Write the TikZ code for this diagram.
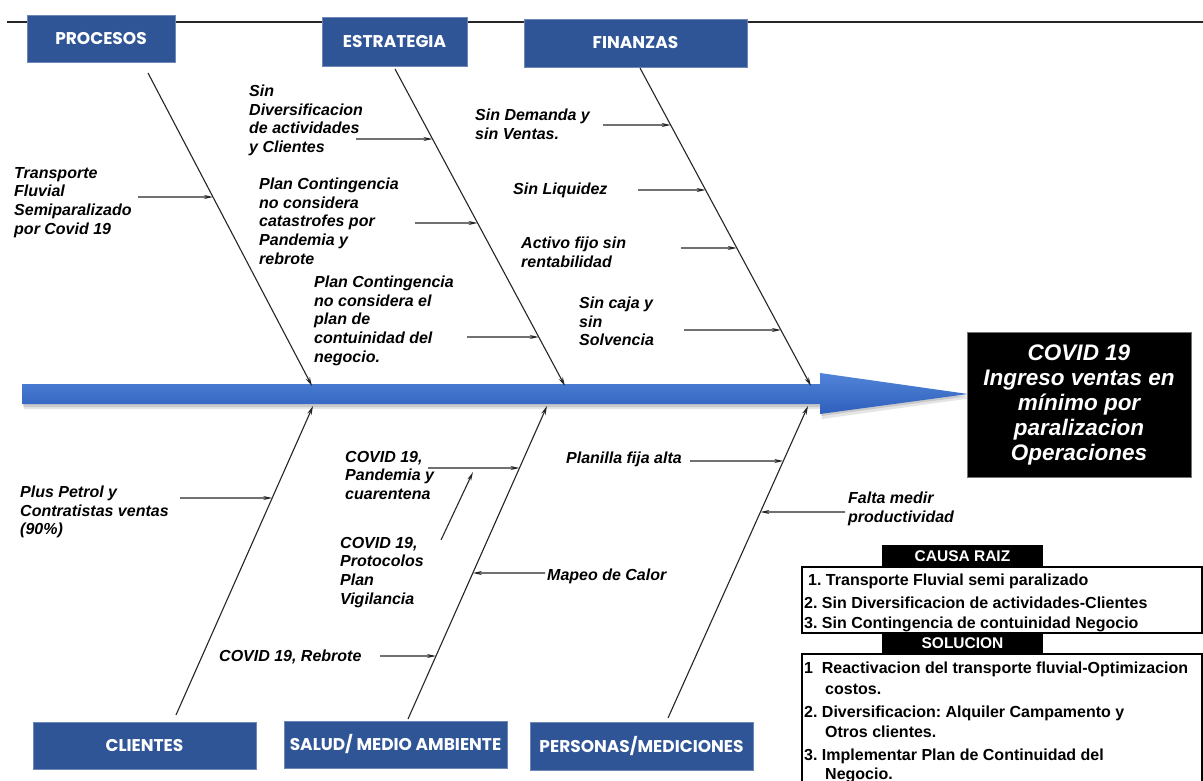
\documentclass[tikz,border=0pt]{standalone}
\usepackage{fontspec}
\setmainfont{Liberation Sans}
\newfontfamily\catfont{Poppins}
\usetikzlibrary{arrows.meta,calc}
\frenchspacing
\definecolor{catblue}{HTML}{2F5597}
\definecolor{spinetop}{HTML}{5084D8}
\definecolor{spinebot}{HTML}{2F5FBC}
\tikzset{
  catbox/.style={fill=catblue, draw=catblue!70!white, line width=0.8pt, text=white,
    font=\catfont\bfseries\fontsize{17}{20}\selectfont, inner sep=0pt},
  cause/.style={font=\bfseries\itshape\fontsize{16}{18.6}\selectfont, align=left,
    anchor=north west, inner sep=0pt},
  bone/.style={line width=1.1pt, black!85, -{Stealth[length=9pt,width=4.5pt]}},
  cline/.style={line width=1.1pt, black!85, -{Stealth[length=9pt,width=4pt]}},
  tabhead/.style={fill=black, text=white, inner sep=0pt,
    font=\bfseries\fontsize{15.5}{17}\selectfont},
  tabtext/.style={anchor=base west, inner sep=0pt, font=\bfseries\fontsize{16}{18}\selectfont},
  tabbox/.style={draw=black, line width=1.2pt, fill=white}
}
\begin{document}
\begin{tikzpicture}[x=1pt,y=-1pt]
\useasboundingbox (0,0) rectangle (1203,781);
\clip (0,0) rectangle (1203,781);
\fill[white] (0,0) rectangle (1203,781);

% top line
\coordinate (tlL) at (7,22);
\coordinate (tlR) at (1204,22);
\draw[line width=1.3pt, black!85] (tlL) -- (tlR);

% category boxes
\node[catbox, minimum width=148pt, minimum height=47pt] (proc) at (101,38.5) {PROCESOS};
\node[catbox, minimum width=145pt, minimum height=49pt] (estr) at (394.5,41.5) {ESTRATEGIA};
\node[catbox, minimum width=223pt, minimum height=48pt] (fin) at (635.5,43) {FINANZAS};
\node[catbox, minimum width=223pt, minimum height=47pt] (cli) at (144.5,745.5) {CLIENTES};
\node[catbox, minimum width=223pt, minimum height=47pt] (sal) at (395.5,744.5) {SALUD/ MEDIO AMBIENTE};
\node[catbox, minimum width=223pt, minimum height=48pt] (per) at (641.5,746) {PERSONAS/MEDICIONES};

% spine
\fill[black, opacity=0.10] (24,388) -- (822,388) -- (822,378) -- (972,398) -- (822,419) -- (822,409) -- (24,409) -- cycle;
\fill[black, opacity=0.12] (23,386) -- (821,386) -- (821,376) -- (970,396) -- (821,416) -- (821,407) -- (23,407) -- cycle;
\shade[top color=spinetop, bottom color=spinebot] (22,384) -- (820,384) -- (820,373) -- (968,394) -- (820,414) -- (820,404) -- (22,404) -- cycle;

% head
\node[fill=black, draw=black!55, line width=0.8pt, text=white, align=center,
  minimum width=224pt, minimum height=145pt, inner sep=0pt,
  font=\bfseries\itshape\fontsize{22.5}{25}\selectfont] (head) at (1079,404.5)
  {COVID 19\\Ingreso ventas en\\mínimo por\\paralizacion\\Operaciones};

% bones
\coordinate (procA) at (148,73);  \coordinate (procB) at (312,386);
\coordinate (estrA) at (395,69);  \coordinate (estrB) at (565,386);
\coordinate (finA)  at (640,68);  \coordinate (finB)  at (811,386);
\coordinate (cliA)  at (176,715); \coordinate (cliB)  at (313,406);
\coordinate (salA)  at (408,719); \coordinate (salB)  at (547,406);
\coordinate (perA)  at (668,718); \coordinate (perB)  at (808,406);
\foreach \a/\b in {procA/procB, estrA/estrB, finA/finB, cliA/cliB, salA/salB, perA/perB}
  \draw[bone] (\a) -- (\b);

% cause arrow points
\coordinate (t1) at (138,197);  \coordinate (h1)  at ($(procA)!{(197-73)/313}!(procB)$);
\coordinate (t2) at (356,139);  \coordinate (h2)  at ($(estrA)!{(139-69)/317}!(estrB)$);
\coordinate (t3) at (415,223);  \coordinate (h3)  at ($(estrA)!{(223-69)/317}!(estrB)$);
\coordinate (t4) at (467,337);  \coordinate (h4)  at ($(estrA)!{(337-69)/317}!(estrB)$);
\coordinate (t5) at (603,125);  \coordinate (h5)  at ($(finA)!{(125-68)/318}!(finB)$);
\coordinate (t6) at (638,190);  \coordinate (h6)  at ($(finA)!{(190-68)/318}!(finB)$);
\coordinate (t7) at (681,248);  \coordinate (h7)  at ($(finA)!{(248-68)/318}!(finB)$);
\coordinate (t8) at (684,330);  \coordinate (h8)  at ($(finA)!{(330-68)/318}!(finB)$);
\coordinate (t9) at (180,498);  \coordinate (h9)  at ($(cliA)!{(715-498)/309}!(cliB)$);
\coordinate (t10) at (428,468); \coordinate (h10) at ($(salA)!{(719-468)/313}!(salB)$);
\coordinate (t11) at (545,573); \coordinate (h11) at ($(salA)!{(719-573)/313}!(salB)$);
\coordinate (t12) at (380,656); \coordinate (h12) at ($(salA)!{(719-656)/313}!(salB)$);
\coordinate (t13) at (690,461); \coordinate (h13) at ($(perA)!{(718-461)/312}!(perB)$);
\coordinate (t14) at (845,512); \coordinate (h14) at ($(perA)!{(718-512)/312}!(perB)$);
\coordinate (s1) at (441,540);  \coordinate (s2) at (473,472);
\foreach \i in {1,...,14} \draw[cline] (t\i) -- (h\i);
\draw[cline] (s1) -- (s2);

% cause labels
\node[cause] (c1) at (14,167) {Transporte\\Fluvial\\Semiparalizado\\por Covid 19};
\node[cause] (c2) at (249,85) {Sin\\Diversificacion\\de actividades\\y Clientes};
\node[cause] (c3) at (259,178) {Plan Contingencia\\no considera\\catastrofes por\\Pandemia y\\rebrote};
\node[cause] (c4) at (314,276) {Plan Contingencia\\no considera el\\plan de\\contuinidad del\\negocio.};
\node[cause] (c5) at (475,109) {Sin Demanda y\\sin Ventas.};
\node[cause] (c6) at (513,183) {Sin Liquidez};
\node[cause] (c7) at (521,237) {Activo fijo sin\\rentabilidad};
\node[cause] (c8) at (579,297) {Sin caja y\\sin\\Solvencia};
\node[cause] (c9) at (20,486) {Plus Petrol y\\Contratistas ventas\\(90\%)};
\node[cause] (c10) at (345,451) {COVID 19,\\Pandemia y\\cuarentena};
\node[cause] (c11) at (340,537) {COVID 19,\\Protocolos\\Plan\\Vigilancia};
\node[cause] (c12) at (547,569) {Mapeo de Calor};
\node[cause] (c13) at (219,650) {COVID 19, Rebrote};
\node[cause] (c14) at (566,452) {Planilla fija alta};
\node[cause] (c15) at (848,492) {Falta medir\\productividad};

% tables
\node[tabhead, minimum width=161pt, minimum height=22pt] (causa) at (962.5,556) {CAUSA RAIZ};
\draw[tabbox] (802,567) rectangle (1202,633);
\node[tabhead, minimum width=161pt, minimum height=21pt] (sol) at (962.5,643.5) {SOLUCION};
\draw[tabbox] (802,654) rectangle (1202,800);
\node[tabtext] (r1) at (808,585) {1. Transporte Fluvial semi paralizado};
\node[tabtext] (r2) at (804,608) {2. Sin Diversificacion de actividades-Clientes};
\node[tabtext] (r3) at (804,628) {3. Sin Contingencia de contuinidad Negocio};
\node[tabtext] (s1t) at (804,673) {1\hspace{0.55em}Reactivacion del transporte fluvial-Optimizacion};
\node[tabtext] (s1b) at (825,694) {costos.};
\node[tabtext] (s2t) at (804,717) {2. Diversificacion: Alquiler Campamento y};
\node[tabtext] (s2b) at (825,737) {Otros clientes.};
\node[tabtext] (s3t) at (804,760) {3. Implementar Plan de Continuidad del};
\node[tabtext] (s3b) at (825,779) {Negocio.};
\end{tikzpicture}
\end{document}
